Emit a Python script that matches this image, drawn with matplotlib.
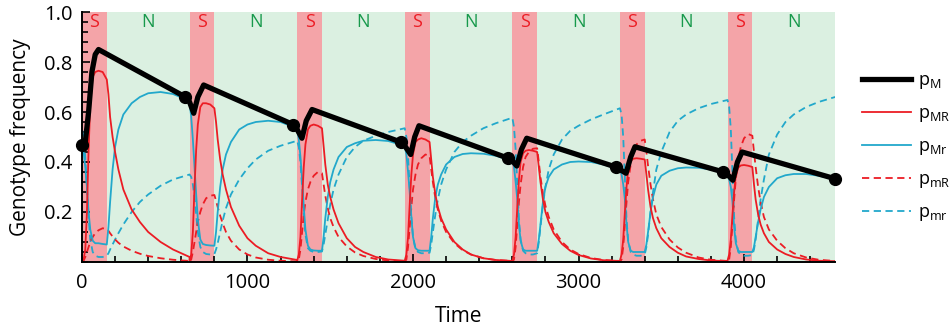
import matplotlib
matplotlib.use("Agg")
import matplotlib.pyplot as plt
import numpy as np
from matplotlib.lines import Line2D
from matplotlib.ticker import MultipleLocator

plt.rcParams["font.family"] = ["Open Sans", "DejaVu Sans"]

# treatment schedule: S (selection) then N (no selection)
cycle_starts = [0, 650, 1300, 1950, 2600, 3250, 3900]
s_length = 150
period = 650

# sample times inside each cycle (relative to cycle start)
tau = [0, 10, 20, 30, 40, 50, 65, 80, 100, 125, 150, 160, 170, 185, 200,
       220, 250, 300, 350, 400, 475, 550, 650]

# p_MR (red solid), one row per cycle
p_MR = [
    [0.0, 0.01, 0.05, 0.2, 0.45, 0.63, 0.74, 0.76, 0.765, 0.76, 0.73, 0.67, 0.58, 0.5, 0.44, 0.37, 0.29, 0.21, 0.16, 0.12, 0.08, 0.05, 0.02],
    [0.005, 0.03, 0.12, 0.3, 0.45, 0.55, 0.62, 0.635, 0.635, 0.63, 0.615, 0.56, 0.49, 0.41, 0.35, 0.29, 0.22, 0.145, 0.095, 0.065, 0.035, 0.02, 0.008],
    [0.005, 0.03, 0.1, 0.25, 0.38, 0.47, 0.53, 0.545, 0.55, 0.545, 0.535, 0.46, 0.39, 0.31, 0.26, 0.21, 0.155, 0.095, 0.06, 0.04, 0.02, 0.01, 0.005],
    [0.005, 0.03, 0.1, 0.23, 0.35, 0.43, 0.48, 0.49, 0.495, 0.49, 0.48, 0.41, 0.34, 0.27, 0.22, 0.175, 0.13, 0.08, 0.05, 0.03, 0.015, 0.008, 0.004],
    [0.005, 0.03, 0.1, 0.22, 0.33, 0.4, 0.435, 0.445, 0.448, 0.445, 0.44, 0.38, 0.32, 0.25, 0.2, 0.16, 0.115, 0.072, 0.045, 0.028, 0.014, 0.007, 0.004],
    [0.005, 0.03, 0.09, 0.2, 0.3, 0.37, 0.405, 0.413, 0.415, 0.413, 0.41, 0.35, 0.29, 0.22, 0.175, 0.135, 0.095, 0.06, 0.037, 0.022, 0.012, 0.006, 0.003],
    [0.005, 0.03, 0.09, 0.19, 0.28, 0.345, 0.378, 0.386, 0.388, 0.385, 0.38, 0.31, 0.25, 0.19, 0.15, 0.115, 0.08, 0.05, 0.032, 0.02, 0.01, 0.005, 0.003],
]

# p_Mr (blue solid)
p_Mr = [
    [0.47, 0.44, 0.38, 0.3, 0.2, 0.13, 0.085, 0.075, 0.075, 0.072, 0.07, 0.14, 0.24, 0.37, 0.46, 0.53, 0.59, 0.635, 0.66, 0.675, 0.68, 0.672, 0.645],
    [0.64, 0.58, 0.49, 0.38, 0.27, 0.17, 0.09, 0.072, 0.068, 0.066, 0.065, 0.12, 0.2, 0.3, 0.37, 0.43, 0.48, 0.53, 0.55, 0.56, 0.565, 0.56, 0.535],
    [0.53, 0.49, 0.42, 0.33, 0.22, 0.13, 0.065, 0.05, 0.046, 0.045, 0.045, 0.1, 0.175, 0.26, 0.32, 0.37, 0.42, 0.46, 0.475, 0.485, 0.488, 0.484, 0.465],
    [0.465, 0.43, 0.36, 0.28, 0.18, 0.1, 0.055, 0.047, 0.045, 0.045, 0.045, 0.1, 0.175, 0.26, 0.31, 0.35, 0.39, 0.42, 0.432, 0.435, 0.433, 0.425, 0.405],
    [0.405, 0.38, 0.32, 0.25, 0.15, 0.085, 0.05, 0.045, 0.045, 0.045, 0.045, 0.09, 0.15, 0.24, 0.3, 0.34, 0.37, 0.39, 0.4, 0.402, 0.4, 0.39, 0.37],
    [0.37, 0.35, 0.31, 0.25, 0.15, 0.08, 0.045, 0.04, 0.04, 0.04, 0.04, 0.07, 0.12, 0.2, 0.26, 0.31, 0.345, 0.365, 0.375, 0.378, 0.377, 0.37, 0.35],
    [0.35, 0.33, 0.3, 0.24, 0.14, 0.075, 0.045, 0.04, 0.04, 0.04, 0.04, 0.06, 0.1, 0.16, 0.21, 0.26, 0.3, 0.335, 0.347, 0.352, 0.352, 0.345, 0.332],
]

# p_mR (red dashed)
p_mR = [
    [0.0, 0.005, 0.02, 0.04, 0.06, 0.08, 0.1, 0.115, 0.127, 0.135, 0.132, 0.125, 0.115, 0.102, 0.09, 0.077, 0.062, 0.045, 0.033, 0.024, 0.015, 0.009, 0.004],
    [0.0, 0.01, 0.04, 0.08, 0.12, 0.16, 0.2, 0.23, 0.255, 0.265, 0.268, 0.245, 0.22, 0.185, 0.155, 0.12, 0.085, 0.05, 0.03, 0.018, 0.009, 0.005, 0.002],
    [0.0, 0.01, 0.05, 0.12, 0.19, 0.24, 0.29, 0.32, 0.345, 0.36, 0.355, 0.31, 0.265, 0.215, 0.175, 0.14, 0.1, 0.062, 0.038, 0.024, 0.012, 0.006, 0.003],
    [0.0, 0.01, 0.06, 0.14, 0.22, 0.29, 0.35, 0.39, 0.415, 0.43, 0.425, 0.37, 0.32, 0.255, 0.21, 0.165, 0.12, 0.075, 0.047, 0.03, 0.015, 0.008, 0.004],
    [0.0, 0.01, 0.06, 0.15, 0.24, 0.31, 0.38, 0.42, 0.44, 0.453, 0.455, 0.4, 0.34, 0.275, 0.225, 0.18, 0.13, 0.08, 0.05, 0.032, 0.016, 0.008, 0.004],
    [0.0, 0.01, 0.06, 0.15, 0.24, 0.32, 0.39, 0.44, 0.47, 0.485, 0.49, 0.44, 0.385, 0.31, 0.25, 0.19, 0.14, 0.09, 0.058, 0.037, 0.018, 0.009, 0.004],
    [0.0, 0.01, 0.06, 0.15, 0.25, 0.33, 0.41, 0.46, 0.495, 0.512, 0.505, 0.44, 0.38, 0.3, 0.24, 0.18, 0.13, 0.085, 0.055, 0.035, 0.018, 0.009, 0.004],
]

# p_mr (blue dashed)
p_mr = [
    [0.53, 0.5, 0.42, 0.3, 0.18, 0.09, 0.04, 0.025, 0.02, 0.02, 0.025, 0.035, 0.05, 0.07, 0.09, 0.115, 0.15, 0.2, 0.24, 0.27, 0.305, 0.33, 0.35],
    [0.35, 0.34, 0.31, 0.26, 0.19, 0.12, 0.06, 0.04, 0.032, 0.03, 0.032, 0.05, 0.075, 0.12, 0.165, 0.215, 0.27, 0.33, 0.375, 0.41, 0.445, 0.465, 0.485],
    [0.485, 0.46, 0.4, 0.3, 0.19, 0.11, 0.055, 0.045, 0.04, 0.04, 0.042, 0.07, 0.11, 0.17, 0.23, 0.29, 0.35, 0.42, 0.46, 0.485, 0.505, 0.52, 0.535],
    [0.535, 0.5, 0.42, 0.3, 0.18, 0.1, 0.05, 0.04, 0.035, 0.035, 0.037, 0.07, 0.12, 0.19, 0.25, 0.31, 0.37, 0.44, 0.48, 0.505, 0.535, 0.555, 0.577],
    [0.577, 0.54, 0.45, 0.31, 0.17, 0.09, 0.045, 0.035, 0.03, 0.03, 0.035, 0.08, 0.14, 0.23, 0.3, 0.37, 0.43, 0.49, 0.525, 0.545, 0.57, 0.59, 0.615],
    [0.615, 0.59, 0.5, 0.33, 0.17, 0.085, 0.04, 0.03, 0.025, 0.025, 0.03, 0.06, 0.11, 0.2, 0.28, 0.37, 0.44, 0.52, 0.565, 0.59, 0.615, 0.632, 0.648],
    [0.648, 0.62, 0.53, 0.36, 0.18, 0.09, 0.04, 0.03, 0.025, 0.025, 0.028, 0.05, 0.09, 0.17, 0.25, 0.33, 0.43, 0.51, 0.56, 0.59, 0.62, 0.64, 0.66],
]

# p_M (thick black), own sample times
pM_t = [0, 20, 40, 60, 80, 100, 625, 650, 675, 700, 735, 1275, 1300, 1329, 1355, 1390,
        1925, 1950, 1986, 2010, 2036, 2575, 2600, 2627, 2655, 2687, 3225, 3250, 3287,
        3315, 3341, 3875, 3900, 3932, 3960, 3988, 4550]
pM_v = [0.47, 0.48, 0.6, 0.76, 0.83, 0.85, 0.66, 0.64, 0.595, 0.66, 0.708, 0.55, 0.53,
        0.495, 0.565, 0.61, 0.48, 0.465, 0.43, 0.5, 0.545, 0.415, 0.405, 0.384, 0.45,
        0.495, 0.38, 0.37, 0.355, 0.42, 0.461, 0.36, 0.35, 0.327, 0.40, 0.44, 0.333]

# black markers at the end of each N phase
dot_t = [0, 625, 1275, 1925, 2575, 3225, 3875, 4550]
dot_v = [0.47, 0.66, 0.55, 0.48, 0.415, 0.38, 0.36, 0.333]

RED = "#ec1c24"
BLUE = "#22a8cb"
S_COL = "#f4a4a8"
N_COL = "#dbf0e1"


def _series(rows):
    t = np.concatenate([np.array(tau) + s for s in cycle_starts])
    v = np.concatenate([np.array(r) for r in rows])
    return t, v


fig = plt.figure(figsize=(9.52, 3.31), dpi=100)
ax = fig.add_axes([0.0861, 0.2085, 0.7911, 0.7552])

for s in cycle_starts:
    ax.axvspan(s, s + s_length, color=S_COL, lw=0, zorder=0)
    ax.axvspan(s + s_length, s + period, color=N_COL, lw=0, zorder=0)
    ax.text(s + s_length / 2, 0.962, "S", color=RED, ha="center", va="center", fontsize=13)
    ax.text(s + (s_length + period) / 2, 0.962, "N", color="#17994b", ha="center",
            va="center", fontsize=13)

dash = (4, 2.5)
t, v = _series(p_mr)
ax.plot(t, v, color=BLUE, lw=1.3, dashes=dash, zorder=2)
t, v = _series(p_mR)
ax.plot(t, v, color=RED, lw=1.3, dashes=dash, zorder=2)
t, v = _series(p_Mr)
ax.plot(t, v, color=BLUE, lw=1.3, zorder=3)
t, v = _series(p_MR)
ax.plot(t, v, color=RED, lw=1.3, zorder=3)
ax.plot(pM_t, pM_v, color="black", lw=3.8, solid_joinstyle="round", zorder=4)
ax.plot(dot_t, dot_v, "o", color="black", ms=8.5, zorder=5, clip_on=False)

ax.set_xlim(0, 4550)
ax.set_ylim(0, 1.0)
ax.set_yticks([0.2, 0.4, 0.6, 0.8, 1.0])
ax.set_yticklabels(["0.2", "0.4", "0.6", "0.8", "1.0"])
ax.set_xticks([0, 1000, 2000, 3000, 4000])
ax.xaxis.set_minor_locator(MultipleLocator(200))
ax.yaxis.set_minor_locator(MultipleLocator(0.04))
ax.tick_params(which="both", direction="in", width=1.2, labelsize=14.5, colors="black")
ax.tick_params(which="major", length=6)
ax.tick_params(which="minor", length=4)
ax.tick_params(axis="x", pad=8)
ax.tick_params(axis="y", pad=7)
for side in ["top", "right"]:
    ax.spines[side].set_visible(False)
for side in ["left", "bottom"]:
    ax.spines[side].set_linewidth(1.4)
    ax.spines[side].set_zorder(6)

ax.set_xlabel("Time", fontsize=15, labelpad=9)
ax.set_ylabel("Genotype frequency", fontsize=15, labelpad=9)

handles = [
    Line2D([], [], color="black", lw=3.8),
    Line2D([], [], color=RED, lw=1.3),
    Line2D([], [], color=BLUE, lw=1.3),
    Line2D([], [], color=RED, lw=1.3, dashes=dash),
    Line2D([], [], color=BLUE, lw=1.3, dashes=dash),
]
labels = [r"$\mathregular{p_{M}}$", r"$\mathregular{p_{MR}}$", r"$\mathregular{p_{Mr}}$",
          r"$\mathregular{p_{mR}}$", r"$\mathregular{p_{mr}}$"]
fig.legend(handles, labels, loc="upper left", bbox_to_anchor=(0.9055, 0.785),
           frameon=False, fontsize=13, handlelength=2.7, handletextpad=0.4,
           labelspacing=0.72, borderaxespad=0, borderpad=0)

fig.savefig("out.png", dpi=100)
